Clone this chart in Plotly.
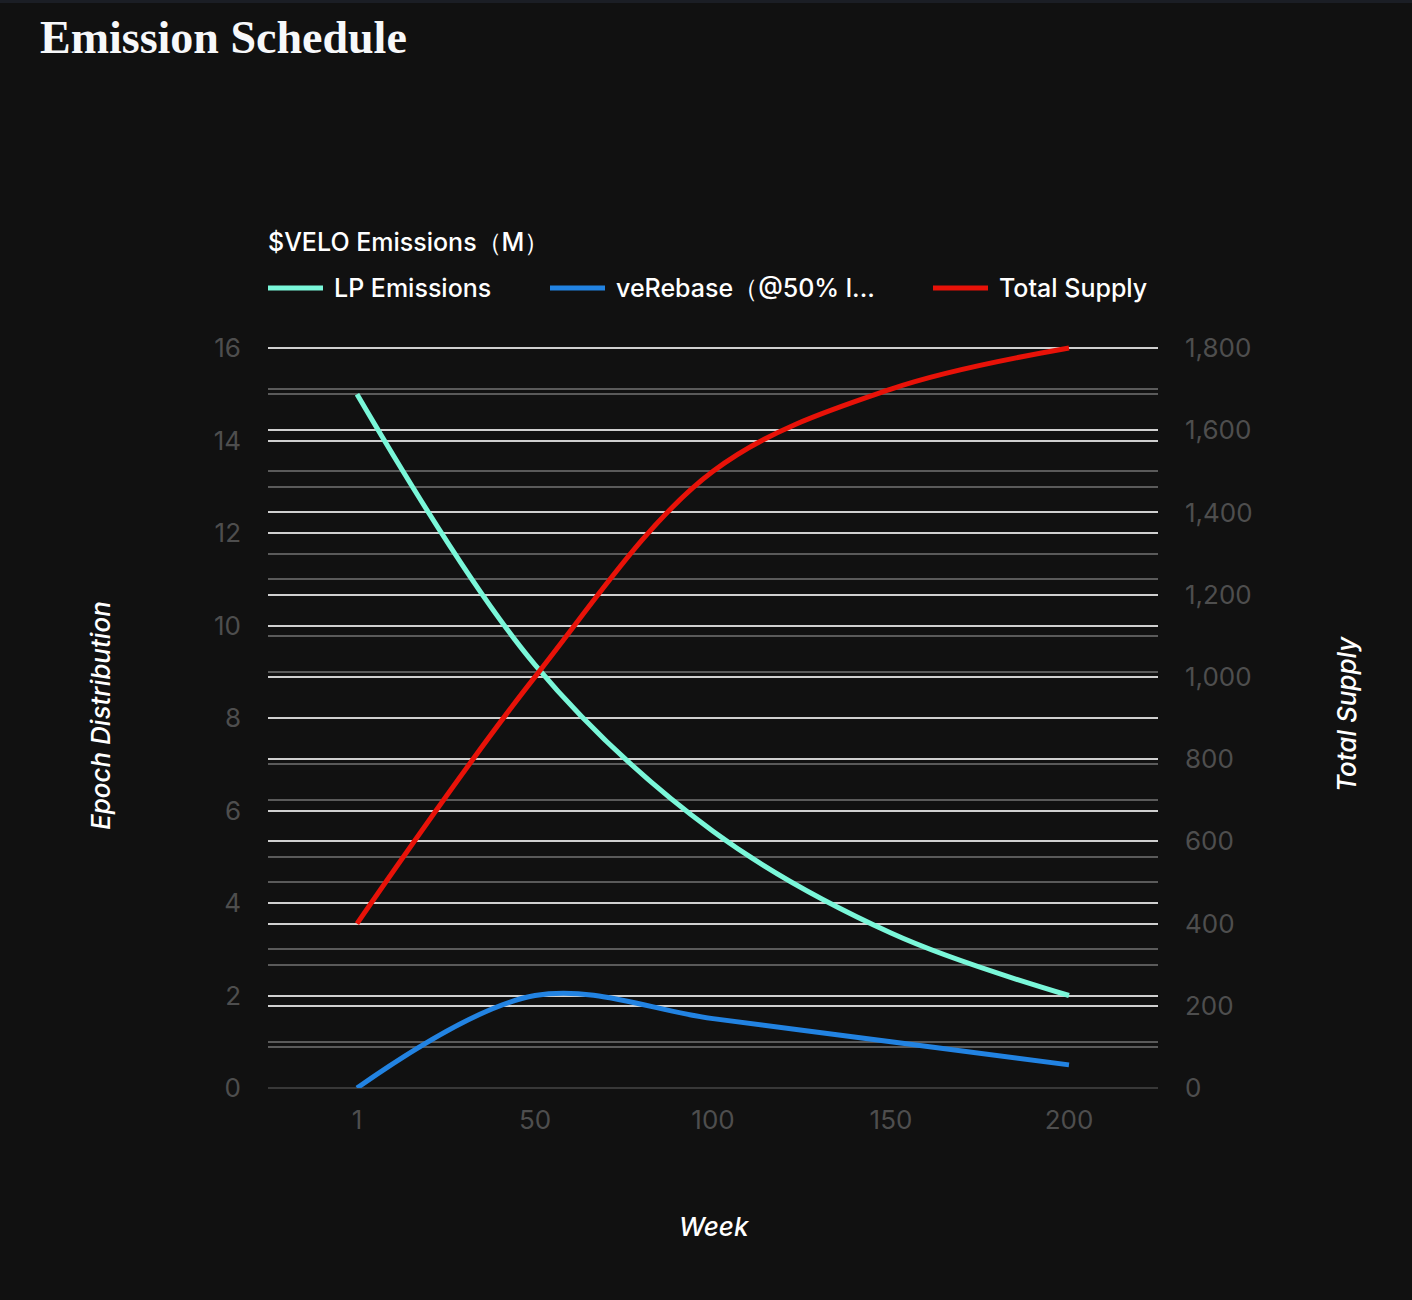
import plotly.graph_objects as go

# ---- data ----
weeks = ["1", "50", "100", "150", "200"]
lp_emissions = [15.0, 9.15, 5.55, 3.35, 2.0]
ve_rebase = [0.0, 2.0, 1.5, 1.0, 0.5]
total_supply = [400, 1000, 1500, 1700, 1800]
series_names = ["LP Emissions", "veRebase（@50% l...", "Total Supply"]
series_colors = ["#7af7d9", "#2283e2", "#e81208"]
legend_title = "$VELO Emissions（M）"
chart_title = "Emission Schedule"
left_max, right_max = 16, 1800

# ---- geometry ----
W, H = 1412, 1300
L, R, B = 268, 1158, 1088
T_TICK = 348          # pixel row of the top tick (16 / 1,800)
T = 345               # plot top, a little above so the top gridline is drawn
PW, PH = R - L, B - T
stretch = (B - T) / (B - T_TICK)


def px_x(x):
    return (x - L) / PW


def px_y(y):
    return (B - y) / PH


BG = "#111111"
SANS = "Inter, Roboto, 'Noto Sans', sans-serif"
TICK_FONT = dict(family=SANS, size=26, color="#4e4e4e")
MAJOR_GRID = "#d0d0d0"
MINOR_GRID = "#5a5a5a"
LINE_W = 5

fig = go.Figure()
fig.add_trace(go.Scatter(x=weeks, y=lp_emissions, name=series_names[0], mode="lines",
                         line=dict(color=series_colors[0], width=LINE_W, shape="spline"), yaxis="y"))
fig.add_trace(go.Scatter(x=weeks, y=ve_rebase, name=series_names[1], mode="lines",
                         line=dict(color=series_colors[1], width=LINE_W, shape="spline"), yaxis="y"))
fig.add_trace(go.Scatter(x=weeks, y=total_supply, name=series_names[2], mode="lines",
                         line=dict(color=series_colors[2], width=LINE_W, shape="spline"), yaxis="y2"))

fig.update_layout(
    width=W, height=H,
    margin=dict(l=L, r=W - R, t=T, b=H - B, pad=0),
    paper_bgcolor=BG, plot_bgcolor=BG,
    showlegend=False,
    title=dict(text=chart_title, x=40 / W, xanchor="left", xref="container",
               y=1 - 37 / H, yanchor="middle", yref="container",
               font=dict(family="'Liberation Serif', 'DejaVu Serif', serif", size=46,
                         color="#f7f8fa", weight="bold")),
    xaxis=dict(type="category", range=[-0.5, 4.5], showgrid=False, zeroline=False,
               showline=False, ticks="", tickfont=TICK_FONT, ticklabelstandoff=14),
    yaxis=dict(range=[0, left_max * stretch], dtick=2, tick0=0, showgrid=True,
               gridcolor=MAJOR_GRID, gridwidth=1.5,
               minor=dict(dtick=1, tick0=0, showgrid=True, gridcolor=MINOR_GRID, gridwidth=1.5),
               zeroline=True, zerolinecolor="#383838", zerolinewidth=2,
               showline=False, ticks="", tickfont=TICK_FONT, ticklabelstandoff=26),
    yaxis2=dict(range=[0, right_max * stretch], dtick=200, tick0=0, overlaying="y", side="right",
                showgrid=True, gridcolor=MAJOR_GRID, gridwidth=1.5,
                minor=dict(dtick=100, tick0=0, showgrid=True, gridcolor=MINOR_GRID, gridwidth=1.5),
                zeroline=True, zerolinecolor="#383838", zerolinewidth=2,
                showline=False, ticks="", tickformat=",", tickfont=TICK_FONT, ticklabelstandoff=26),
)

annotations = []
shapes = []

# top strip
shapes.append(dict(type="rect", xref="paper", yref="paper",
                   x0=px_x(0), x1=px_x(W), y0=px_y(3), y1=px_y(0),
                   fillcolor="#1b1e25", line=dict(width=0), layer="below"))

# axis titles
TITLE_FONT = dict(family=SANS, size=26, color="#ffffff", style="italic", weight=500)
annotations.append(dict(text="Epoch Distribution", xref="paper", yref="paper",
                        x=px_x(100), y=px_y(716), xanchor="center", yanchor="middle",
                        textangle=-90, showarrow=False, font=TITLE_FONT))
annotations.append(dict(text="Total Supply", xref="paper", yref="paper",
                        x=px_x(1346), y=px_y(714), xanchor="center", yanchor="middle",
                        textangle=-90, showarrow=False, font=TITLE_FONT))
annotations.append(dict(text="Week", xref="paper", yref="paper",
                        x=px_x(714), y=px_y(1226), xanchor="center", yanchor="middle",
                        showarrow=False, font=TITLE_FONT))

# custom legend
LEG_FONT = dict(family=SANS, size=25, color="#ffffff", weight=500)
annotations.append(dict(text=legend_title, xref="paper", yref="paper",
                        x=px_x(266), y=px_y(242), xanchor="left", yanchor="middle",
                        showarrow=False, font=LEG_FONT))
leg_x = [268, 550, 933]
for name, color, lx in zip(series_names, series_colors, leg_x):
    shapes.append(dict(type="line", xref="paper", yref="paper",
                       x0=px_x(lx), x1=px_x(lx + 55), y0=px_y(288), y1=px_y(288),
                       line=dict(color=color, width=5)))
    annotations.append(dict(text=name, xref="paper", yref="paper",
                            x=px_x(lx + 64), y=px_y(288), xanchor="left", yanchor="middle",
                            showarrow=False, font=LEG_FONT))

fig.update_layout(annotations=annotations, shapes=shapes)

fig.write_html("out.html",
               config={"displayModeBar": False},
               post_script="document.body.style.margin='0';document.body.style.background='#111111';")
